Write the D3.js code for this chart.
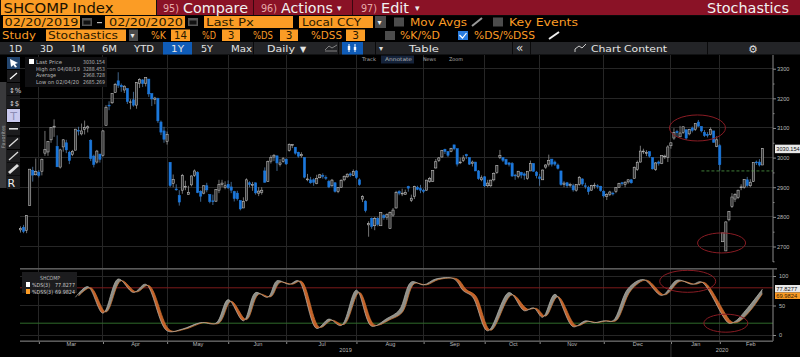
<!DOCTYPE html>
<html>
<head>
<meta charset="utf-8">
<style>
  html, body { margin: 0; background: #000; overflow: hidden; }
  svg { display: block; font-family: "DejaVu Sans", sans-serif; }
</style>
<script src="https://cdn.jsdelivr.net/npm/d3@7"></script>
</head>
<body>
<svg id="chart" width="800" height="357"></svg>
<script>
// daily candles, one line per month, Feb 20 2019 to Feb 20 2020
const opens = [
  2756,2765,2754,2838,2957,2942,2951,
  2954,3015,3019,3060,3103,3038,2968,3036,3050,3018,3010,3025,3092,3080,3095,3100,3058,3005,2985,3012,3008,
  3109,3177,3185,3220,3259,3244,3228,3233,3187,3195,3177,3250,3262,3251,3265,3216,3196,3200,3120,3090,3054,
  2984,2913,2894,2872,2890,2902,2875,2908,2940,2950,2886,2880,2905,2875,2854,2853,2890,2910,2900,2910,
  2901,2885,2880,2855,2830,2855,2915,2906,2915,2880,2882,2955,2919,2988,3002,3006,2977,2987,2995,
  3024,3042,3035,3018,3006,3000,2925,2925,2925,2912,2932,2940,2933,2920,2905,2915,2886,2900,2925,2935,2945,2940,2955,
  2925,2860,2853,2773,2795,2770,2795,2770,2805,2799,2760,2806,2830,2885,2880,2876,2902,2855,2868,2900,2895,2890,
  2890,2920,2920,2965,2990,3002,3028,3020,3020,3043,3030,2985,2990,3010,3000,2980,2985,2955,2925,2935,
  2905,2905,2925,2950,3000,3000,2993,2982,2980,2941,2936,2950,2945,2930,2955,2980,2951,2935,
  2925,2968,2978,2995,2985,2975,2955,2910,2915,2906,2905,2890,2910,2928,2905,2900,2890,2905,2905,2903,2885,
  2868,2875,2880,2885,2900,2915,2910,2918,2925,2930,2960,2985,3022,3015,3020,3000,2960,2985,2980,3005,3000,3040,
  3066,3088,3070,3085,3094,3080,3100,3095,3120,3105,3085,3078,3078,3090,3038,3040,
  2716,2685,2790,2835,2860,2865,2900,2900,2925,2905,2920,2985,2985,2975
];
const highs = [
  2768,2773,2806,2961,2969,2997,2958,
  2997,3090,3055,3103,3129,3075,3030,3062,3060,3023,3026,3097,3104,3115,3125,3109,3062,3010,3026,3012,3093,
  3177,3190,3217,3252,3288,3250,3244,3233,3197,3222,3254,3268,3265,3270,3265,3216,3205,3202,3125,3104,3088,
  2984,2943,2910,2890,2945,2922,2905,2940,2960,2954,2890,2907,2915,2877,2875,2893,2925,2925,2920,2923,
  2918,2888,2888,2855,2866,2930,2920,2918,2915,2900,2900,2967,2990,3008,3012,3006,2995,3002,2996,
  3048,3046,3035,3020,3018,3000,2945,2935,2930,2942,2945,2947,2940,2925,2928,2917,2900,2927,2940,2947,2950,2960,2958,
  2930,2873,2856,2785,2798,2800,2800,2816,2810,2812,2818,2830,2888,2890,2895,2892,2905,2875,2905,2905,2908,2895,
  2925,2935,2958,2995,3002,3026,3030,3022,3033,3042,3030,3000,3008,3013,3000,2990,2985,2958,2940,2938,
  2925,2925,2950,2975,3026,3000,2996,2985,2985,2945,2955,2952,2950,2955,2990,2980,2955,2945,
  2960,2978,3010,2995,2990,2980,2955,2920,2918,2915,2912,2910,2938,2930,2915,2905,2908,2915,2910,2905,2890,
  2880,2888,2885,2900,2915,2918,2920,2927,2928,2970,2990,3040,3030,3025,3020,3000,2985,2990,3008,3010,3042,3050,
  3099,3094,3107,3105,3094,3097,3105,3115,3127,3105,3093,3086,3102,3090,3072,3045,
  2746,2785,2820,2880,2880,2892,2910,2927,2935,2927,2983,2990,2995,3032
];
const lows = [
  2747,2745,2745,2838,2919,2940,2933,
  2940,3006,3006,3050,3070,2969,2963,3020,3015,2978,3005,3025,3075,3075,3078,3085,2988,2967,2980,2983,3003,
  3109,3160,3181,3218,3235,3222,3218,3181,3163,3172,3165,3235,3238,3240,3205,3174,3180,3117,3076,3050,3044,
  2900,2900,2888,2838,2878,2890,2875,2903,2935,2880,2851,2876,2883,2846,2840,2850,2880,2900,2893,2894,
  2880,2852,2855,2822,2830,2852,2900,2888,2875,2870,2875,2915,2918,2980,2988,2955,2970,2983,2975,
  3020,3032,3010,3000,3000,2930,2920,2912,2905,2910,2930,2929,2925,2897,2901,2882,2880,2898,2920,2932,2935,2938,2928,
  2905,2850,2815,2733,2760,2755,2768,2770,2790,2790,2760,2800,2828,2873,2870,2875,2885,2850,2860,2890,2880,2880,
  2888,2915,2918,2963,2985,3000,3012,3002,3018,3025,2970,2978,2985,2995,2975,2970,2955,2925,2920,2900,
  2900,2900,2920,2945,2995,2985,2975,2970,2935,2925,2930,2930,2925,2925,2955,2953,2930,2905,
  2925,2962,2970,2970,2972,2960,2905,2900,2898,2900,2885,2885,2905,2905,2895,2875,2888,2895,2895,2885,2865,
  2857,2870,2872,2880,2898,2905,2900,2912,2912,2930,2955,2983,3012,3005,3000,2960,2955,2973,2978,2995,2985,3030,
  3060,3070,3070,3080,3060,3075,3085,3090,3105,3085,3070,3068,3075,3050,3035,2956,
  2716,2685,2785,2830,2850,2860,2890,2895,2900,2900,2918,2975,2970,2975
];
const closes = [
  2761,2751,2804,2961,2941,2953,2940,
  2994,3027,3054,3102,3106,2969,3026,3060,3026,2990,3021,3096,3090,3090,3101,3104,2997,2977,3022,2994,3090,
  3170,3176,3216,3246,3244,3239,3241,3189,3188,3177,3253,3263,3250,3270,3215,3198,3201,3124,3086,3062,3078,
  2906,2926,2893,2850,2939,2903,2883,2938,2955,2882,2870,2905,2891,2852,2852,2892,2909,2914,2905,2898,
  2890,2862,2861,2827,2852,2925,2909,2910,2881,2887,2890,2917,2987,3001,3008,2982,2982,2996,2979,
  3044,3044,3015,3005,3011,2934,2928,2915,2917,2930,2942,2937,2931,2901,2924,2886,2899,2923,2937,2944,2941,2953,2933,
  2909,2868,2821,2777,2768,2794,2775,2815,2797,2808,2815,2823,2883,2880,2880,2883,2897,2863,2902,2893,2890,2886,
  2924,2930,2957,2986,2999,3024,3021,3008,3031,3030,2978,2985,2999,3006,2978,2985,2955,2929,2932,2905,
  2914,2924,2947,2973,3007,2991,2978,2977,2938,2939,2954,2941,2940,2954,2980,2954,2939,2929,
  2958,2975,2991,2978,2978,2964,2909,2914,2905,2909,2891,2909,2933,2911,2903,2885,2906,2907,2903,2889,2871,
  2875,2884,2878,2899,2912,2914,2917,2925,2915,2967,2984,3022,3022,3017,3005,2962,2982,2981,3007,3005,3036,3050,
  3085,3084,3083,3104,3066,3095,3092,3115,3106,3090,3074,3075,3095,3052,3060,2976,
  2746,2783,2818,2867,2875,2890,2901,2926,2906,2917,2983,2984,2975,3030
];

// stochastic pane, read at the turning points. the days are candle numbers
const dsDays = [18,22,27,32,37,41,48,53,59,64,68,73,77,81,84,88,91,97,101,105,110,115,120,124,128,132,136,142,145,148,153,160,165,168,171,175,181,185,188,191,194,199,204,210,215,220,223,232,234,238,243];
const dsValues = [64,82,37,95,72,86,7,10,21,20,60,24,72,64,92,86,92,11,27,16,76,15,28,42,90,85,95,95,75,65,7,72,41,46,30,69,14,24,21,24,24,79,94,67,93,86,90,20,23,45,77.8];
const dssDays = [19,23,28,33,38,42,49,54,60,65,69,74,78,82,85,89,92,98,102,106,111,116,121,125,129,133,137,143,146,149,154,161,166,169,172,176,182,186,189,192,195,200,205,211,216,221,224,233,235,239,243];
const dssValues = [66,80,39,92,73,84,8,10,21,20,57,26,69,65,89,86,91,13,25,18,72,17,26,38,87,85,94,95,77,67,8,68,44,45,32,65,16,23,21,24,24,76,93,68,91,86,89,22,22,41,70];

// axis stuff
const priceTicks = [2700,2800,2900,3000,3100,3200,3300];
const priceMinor = [2650,2750,2850,2950,3050,3150,3250];
const stochTicks = [0,50,100];
const monthStarts = [7,28,49,69,88,111,133,153,171,192,214,230];
const monthNames = ['Mar','Apr','May','Jun','Jul','Aug','Sep','Oct','Nov','Dec','Jan','Feb'];
const monthMiddles = [16.5,37.5,58,77.6,98.6,121,142,161.2,180.5,202,221,239];
const yearNames = ['2019','2020'];
const yearMiddles = [106.3,229.6];

const legendRows = [['Last Price','3030.154',26],['High on 04/08/19','3288.453',44],['Average','2968.728',20],['Low on 02/04/20','2685.269',43]];
const priceCircles = [[221.7,3100,28,13],[229.6,2712,24,10]];
const stochCircles = [[218.5,91,28,11],[231,20,22,9]];
const dashedLevel = 2955;
const lastPrice = 3030.154, lastDs = 77.8277, lastDss = 69.9824;

const orange = '#fb9c25', red = '#8a1226', blue = '#1c78dc', barGrey = '#232427';

const svg = d3.select('#chart');

const x = d3.scaleLinear().domain([0, closes.length - 1]).range([20.5, 762.5]);
const y = d3.scaleLinear().domain([2700, 3300]).range([246.5, 68.7]);
const yStoch = d3.scaleLinear().domain([0, 100]).range([335, 276]);
const plotLeft = 20, plotRight = 773;

// text helper, width forces the wide Bloomberg look
const label = (g, px, py, text, size, color, width, anchor) => {
  const t = g.append('text').attr('x', px).attr('y', py)
    .attr('font-size', size).attr('fill', color).text(text);
  if (width) t.attr('textLength', width).attr('lengthAdjust', 'spacingAndGlyphs');
  if (anchor) t.attr('text-anchor', anchor);
  return t;
};
const box = (g, px, py, w, h, color) =>
  g.append('rect').attr('x', px).attr('y', py).attr('width', w).attr('height', h).attr('fill', color);

//===========GRID=======================
const grid = svg.append('g').attr('stroke', '#262626').attr('stroke-width', 1).attr('shape-rendering', 'crispEdges');
grid.selectAll('.v').data(monthStarts).enter().append('line')
  .attr('x1', d => x(d) - 3).attr('x2', d => x(d) - 3).attr('y1', 55).attr('y2', 341);
grid.selectAll('.h').data(priceTicks).enter().append('line')
  .attr('x1', plotLeft).attr('x2', plotRight).attr('y1', d => y(d)).attr('y2', d => y(d));
grid.selectAll('.hs').data(stochTicks).enter().append('line')
  .attr('x1', plotLeft).attr('x2', plotRight).attr('y1', d => yStoch(d)).attr('y2', d => yStoch(d));

//===========CANDLES=======================
const candles = svg.append('g').selectAll('g').data(closes).enter().append('g');
candles.append('line')
  .attr('x1', (d, i) => x(i)).attr('x2', (d, i) => x(i))
  .attr('y1', (d, i) => y(highs[i])).attr('y2', (d, i) => y(lows[i]))
  .attr('stroke', (d, i) => d < opens[i] ? '#5d8fc4' : '#a5a5a5').attr('stroke-width', 0.7);
candles.append('rect')
  .attr('x', (d, i) => x(i) - 1.1).attr('width', 2.2)
  .attr('y', (d, i) => y(Math.max(d, opens[i])))
  .attr('height', (d, i) => Math.max(0.8, Math.abs(y(d) - y(opens[i]))))
  .attr('fill', (d, i) => d < opens[i] ? blue : '#333')
  .attr('stroke', (d, i) => d < opens[i] ? blue : '#c4c4c4')
  .attr('stroke-width', 0.55);

svg.append('line')
  .attr('x1', x(223)).attr('x2', plotRight).attr('y1', y(dashedLevel)).attr('y2', y(dashedLevel))
  .attr('stroke', '#4f9a45').attr('stroke-width', 0.8).attr('stroke-dasharray', '3,2');

//===========STOCHASTIC PANE=======================
svg.append('line').attr('x1', plotLeft).attr('x2', plotRight).attr('y1', yStoch(80)).attr('y2', yStoch(80))
  .attr('stroke', '#7c1b1b').attr('stroke-width', 1);
svg.append('line').attr('x1', plotLeft).attr('x2', plotRight).attr('y1', yStoch(20)).attr('y2', yStoch(20))
  .attr('stroke', '#2f6a2a').attr('stroke-width', 1);

const curve = d3.curveCatmullRom.alpha(0.5);
const line = (days, vals) => d3.line().x(d => x(d)).y((d, i) => yStoch(vals[i])).curve(curve)(days);
const areaTo = (days, vals, edge) => d3.area().x(d => x(d)).y0(edge).y1((d, i) => yStoch(vals[i])).curve(curve)(days);

// band between the two lines, grey when DS is on top and orange when DSS is
const defs = svg.append('defs');
defs.append('clipPath').attr('id', 'aboveDss').append('path').attr('d', areaTo(dssDays, dssValues, 269));
defs.append('clipPath').attr('id', 'aboveDs').append('path').attr('d', areaTo(dsDays, dsValues, 269));
svg.append('path').attr('d', areaTo(dsDays, dsValues, 341)).attr('fill', '#8f8f88').attr('clip-path', 'url(#aboveDss)');
svg.append('path').attr('d', areaTo(dssDays, dssValues, 341)).attr('fill', '#c4622a').attr('clip-path', 'url(#aboveDs)');
svg.append('path').attr('d', line(dssDays, dssValues)).attr('fill', 'none').attr('stroke', '#d9772f').attr('stroke-width', 0.7);
svg.append('path').attr('d', line(dsDays, dsValues)).attr('fill', 'none').attr('stroke', '#b5b5ae').attr('stroke-width', 0.7);

//===========CIRCLED AREAS=======================
const rings = svg.append('g').attr('fill', 'none').attr('stroke', '#8a1c24').attr('stroke-width', 1);
rings.selectAll('.p').data(priceCircles).enter().append('ellipse')
  .attr('cx', d => x(d[0])).attr('cy', d => y(d[1])).attr('rx', d => d[2]).attr('ry', d => d[3]);
rings.selectAll('.s').data(stochCircles).enter().append('ellipse')
  .attr('cx', d => x(d[0])).attr('cy', d => yStoch(d[1])).attr('rx', d => d[2]).attr('ry', d => d[3]);

//===========AXES=======================
const styleAxis = g => {
  g.select('.domain').attr('stroke', '#8a8a8a');
  g.selectAll('line').attr('stroke', '#8a8a8a');
  g.selectAll('text').attr('fill', '#b8b8b8').attr('font-size', 5.6);
};
svg.append('g').attr('transform', `translate(${plotRight},0)`)
  .call(d3.axisRight(y).tickValues(priceTicks).tickSize(3).tickPadding(1).tickFormat(d3.format('d'))).call(styleAxis)
  .select('.domain').attr('d', 'M0,55V262');
svg.append('g').attr('transform', `translate(${plotRight},0)`)
  .call(d3.axisRight(y).tickValues(priceMinor).tickSize(1.5).tickFormat('')).call(styleAxis)
  .select('.domain').remove();
svg.append('g').attr('transform', `translate(${plotRight},0)`)
  .call(d3.axisRight(yStoch).tickValues(stochTicks).tickSize(3).tickPadding(3)).call(styleAxis)
  .select('.domain').attr('d', 'M0,269V341');

box(svg, plotLeft, 268, plotRight - plotLeft + 4, 1.6, '#5a5a5a');
box(svg, plotLeft, 340.4, plotRight - plotLeft, 1.6, '#5a5a5a');

// month ticks sit on the start of the month, the names in the middle of it
svg.append('g').attr('transform', 'translate(-3,342)')
  .call(d3.axisBottom(x).tickValues(monthStarts).tickSize(2).tickFormat('')).call(styleAxis)
  .select('.domain').remove();
svg.append('g').attr('transform', 'translate(0,342)')
  .call(d3.axisBottom(x).tickValues(monthMiddles).tickSize(0).tickPadding(0)
    .tickFormat((d, i) => monthNames[i])).call(styleAxis)
  .select('.domain').remove();
svg.append('g').attr('transform', 'translate(0,348)')
  .call(d3.axisBottom(x).tickValues(yearMiddles).tickSize(0).tickPadding(0)
    .tickFormat((d, i) => yearNames[i])).call(styleAxis)
  .select('.domain').remove();
svg.append('line').attr('x1', x(214) - 3).attr('x2', x(214) - 3).attr('y1', 344).attr('y2', 357).attr('stroke', '#333');

// value tags on the right, narrower font so the numbers stay inside the page
const tagFont = 'Liberation Sans';
box(svg, 775, y(lastPrice) - 4, 25, 8.5, '#e8e8e8');
label(svg, 776.3, y(lastPrice) + 2.2, lastPrice.toFixed(3), 5.6, '#111').attr('font-family', tagFont);
box(svg, 775, 285, 25, 7.5, '#e8e8e8');
label(svg, 776.3, 291, lastDs.toFixed(4), 5.8, '#111').attr('font-family', tagFont);
box(svg, 775, 292.5, 25, 6.5, orange);
label(svg, 776.3, 298, lastDss.toFixed(4), 5.8, '#3a2000').attr('font-family', tagFont);

//===========LEGENDS=======================
const legend = svg.append('g');
box(legend, 25, 57, 82, 30, '#101012');
box(legend, 29, 59, 5, 5, '#fff');
legendRows.forEach((r, i) => {
  label(legend, 36, 64 + i * 6.7, r[0], 5.4, '#b5b5b5', r[2]);
  label(legend, 83, 64 + i * 6.7, r[1], 5.4, '#b5b5b5', 22);
});
const legend2 = svg.append('g');
box(legend2, 22, 272, 55, 21, '#1c1c1e');
label(legend2, 40, 280, 'SHCOMP', 5.6, '#bbb', 20);
box(legend2, 26, 282, 4, 5, '#fff');
box(legend2, 26, 289, 4, 5, orange);
label(legend2, 32, 287, '%DS(3)', 5.6, '#ccc', 18);
label(legend2, 32, 294, '%DSS(3)', 5.6, '#ccc', 21);
label(legend2, 55, 287, lastDs.toFixed(4), 5.6, '#ccc', 20);
label(legend2, 55, 294, lastDss.toFixed(4), 5.6, '#ccc', 20);

// small labels above the chart
const topTools = svg.append('g');
box(topTools, 381, 55.5, 33, 8, '#15233a');
label(topTools, 362, 61, 'Track', 5, '#aaa', 14);
label(topTools, 385, 61, 'Annotate', 5, '#b5b5b5', 27);
label(topTools, 423, 61, 'News', 5, '#aaa', 13);
label(topTools, 449, 61, 'Zoom', 5, '#aaa', 14);

//===========LEFT TOOLBAR=======================
const tools = svg.append('g');
box(tools, 0, 82, 6.5, 106, '#3a3a3c');
label(tools, 0, 0, 'Favorites', 5, '#a8a8a8').attr('transform', 'translate(5,148) rotate(-90)');
box(tools, 7, 57, 13, 12, '#23456e');
tools.append('path').attr('d', 'M10,59L18,63L15,64L17,67L15,67.5L13.5,65L11,67Z').attr('fill', '#fff');
box(tools, 7, 70, 13, 12, '#1b1b1d');
tools.append('line').attr('x1', 10).attr('y1', 79).attr('x2', 17).attr('y2', 73).attr('stroke', '#fff').attr('stroke-width', 1.2);
box(tools, 7, 83, 13, 12.5, '#1b1b1d');
label(tools, 9, 93, '↕%', 7, '#ddd');
box(tools, 7, 96, 13, 12.5, '#1b1b1d');
label(tools, 9, 106, '↕$', 7, '#ddd');
box(tools, 7, 109, 13, 13, '#c9c9ee');
label(tools, 13.5, 120, 'T', 11, '#8d8db5', null, 'middle');
box(tools, 7, 123, 13, 12.5, '#1b1b1d');
box(tools, 9, 128, 9, 1.6, '#ddd');
[[136.5, 0], [150, 1], [163, 2]].forEach(r => {
  box(tools, 7, r[0], 13, 12.5, '#1b1b1d');
  tools.append('line').attr('x1', 9).attr('y1', r[0] + 10).attr('x2', 18).attr('y2', r[0] + 2)
    .attr('stroke', '#ddd').attr('stroke-width', r[1] === 2 ? 3 : 1.4);
});
box(tools, 7, 176, 13, 13, '#1b1b1d');
label(tools, 7.5, 187, 'R', 11, '#eee');

//===========HEADER=======================
const head = svg.append('g');
// row 1
box(head, 0, 0, 800, 15.5, '#111');
box(head, 1, 0, 155, 15, orange);
box(head, 157, 0, 643, 15, red);
box(head, 253, 0, 1, 15, '#3a0710');
box(head, 352, 0, 1, 15, '#3a0710');
label(head, 3.5, 12.5, 'SHCOMP  Index', 14, '#1a1200', 110);
label(head, 163, 12, '95)', 11, '#e7a9a9', 16);
label(head, 183, 12.5, 'Compare', 14, '#f1f1f1', 65);
label(head, 261, 12, '96)', 11, '#e7a9a9', 16);
label(head, 281, 12.5, 'Actions', 14, '#f1f1f1', 52);
label(head, 337, 11, '▾', 9, '#eee');
label(head, 361, 12, '97)', 11, '#e7a9a9', 16);
label(head, 381, 12.5, 'Edit', 14, '#f1f1f1', 28);
label(head, 415, 11, '▾', 9, '#eee');
label(head, 707, 12.5, 'Stochastics', 14, '#f1f1f1', 82);

// row 2
[[3, 77], [105, 80], [204, 89], [299, 74]].forEach(b => box(head, b[0], 16, b[1], 12, orange));
label(head, 4.5, 26, '02/20/2019', 11, '#2a1a00', 74);
label(head, 109, 26, '02/20/2020', 11, '#2a1a00', 74);
label(head, 206, 26, 'Last Px', 11, '#2a1a00', 48);
label(head, 302, 26, 'Local CCY', 11, '#2a1a00', 59);
[82, 188].forEach(px => {
  box(head, px, 18, 10, 8, '#555');
  box(head, px + 1.5, 20.5, 7, 4, '#111');
});
box(head, 97, 22, 5, 1.2, '#bbb');
box(head, 375, 16, 11, 12, '#4a4a4a');
label(head, 377.5, 25, '▾', 8, '#eee');
box(head, 394, 17.5, 10, 9, '#4c4c4c');
label(head, 410, 26, 'Mov Avgs', 10.5, orange, 57);
box(head, 493, 17.5, 10, 9, '#4c4c4c');
label(head, 509, 26, 'Key Events', 10.5, orange, 69);
head.append('line').attr('x1', 472).attr('y1', 26).attr('x2', 482).attr('y2', 18).attr('stroke', '#999').attr('stroke-width', 2);

// row 3
[[46, 80], [171, 19], [222, 18], [280, 18], [346, 19]].forEach(b => box(head, b[0], 29.5, b[1], 11.5, orange));
label(head, 2, 39, 'Study', 10.5, orange, 34);
label(head, 48, 39, 'Stochastics', 10.5, '#2a1a00', 70);
box(head, 129, 29.5, 9, 11.5, '#4a4a4a');
label(head, 130.5, 38, '▾', 8, '#eee');
label(head, 151, 39, '%K', 10.5, orange, 15);
label(head, 180.5, 39, '14', 10.5, '#2a1a00', 13, 'middle');
label(head, 202, 39, '%D', 10.5, orange, 14);
label(head, 231, 39, '3', 10.5, '#2a1a00', null, 'middle');
label(head, 253, 39, '%DS', 10.5, orange, 20);
label(head, 289, 39, '3', 10.5, '#2a1a00', null, 'middle');
label(head, 311, 39, '%DSS', 10.5, orange, 31);
label(head, 355.5, 39, '3', 10.5, '#2a1a00', null, 'middle');
box(head, 385, 31, 10, 9, '#4c4c4c');
label(head, 400, 39, '%K/%D', 10.5, orange, 40);
box(head, 458, 31, 10, 9, '#2a7de0');
label(head, 474, 39, '%DS/%DSS', 10.5, orange, 61);
head.append('path').attr('d', 'M459.5,35L462.5,38L466.5,33').attr('fill', 'none').attr('stroke', '#fff').attr('stroke-width', 1.2);
head.append('line').attr('x1', 549).attr('y1', 39).attr('x2', 559).attr('y2', 32).attr('stroke', '#eee').attr('stroke-width', 2);

// row 4
box(head, 0, 42, 800, 12.5, barGrey);
box(head, 163, 42, 29, 12.5, '#0f5cb8');
box(head, 342, 42, 21, 12.5, '#0f5cb8');
[[9, '1D', 13], [40, '3D', 13], [71, '1M', 14], [102, '6M', 15], [134, 'YTD', 20], [171, '1Y', 13], [201, '5Y', 12], [231, 'Max', 21], [267, 'Daily', 28], [409, 'Table', 30], [591, 'Chart Content', 76]]
  .forEach(b => label(head, b[0], 52, b[1], 9.5, '#e4e4e4', b[2]));
label(head, 300, 52, '▼', 8, '#e4e4e4');
label(head, 379, 51, '▾', 8, '#ddd');
label(head, 516, 52, '«', 12, '#ddd');
label(head, 748, 53, '⚙', 11, '#ddd');
head.append('path').attr('d', 'M325,50L329,46L332,48L337,45M325,51H337').attr('fill', 'none').attr('stroke', '#999').attr('stroke-width', 0.8);
head.append('path').attr('d', 'M349,44V52M355,44V52').attr('stroke', '#fff').attr('stroke-width', 1);
box(head, 347.8, 46, 2.4, 4, '#fff');
box(head, 353.8, 47, 2.4, 3, '#fff');
head.append('path').attr('d', 'M575,52V49L579,46L582,48L586,44').attr('fill', 'none').attr('stroke', '#ccc').attr('stroke-width', 1);
[[253],[338],[375],[512],[530],[707]].forEach(s => box(head, s[0], 42, 0.7, 12.5, '#000'));
</script>
</body>
</html>
